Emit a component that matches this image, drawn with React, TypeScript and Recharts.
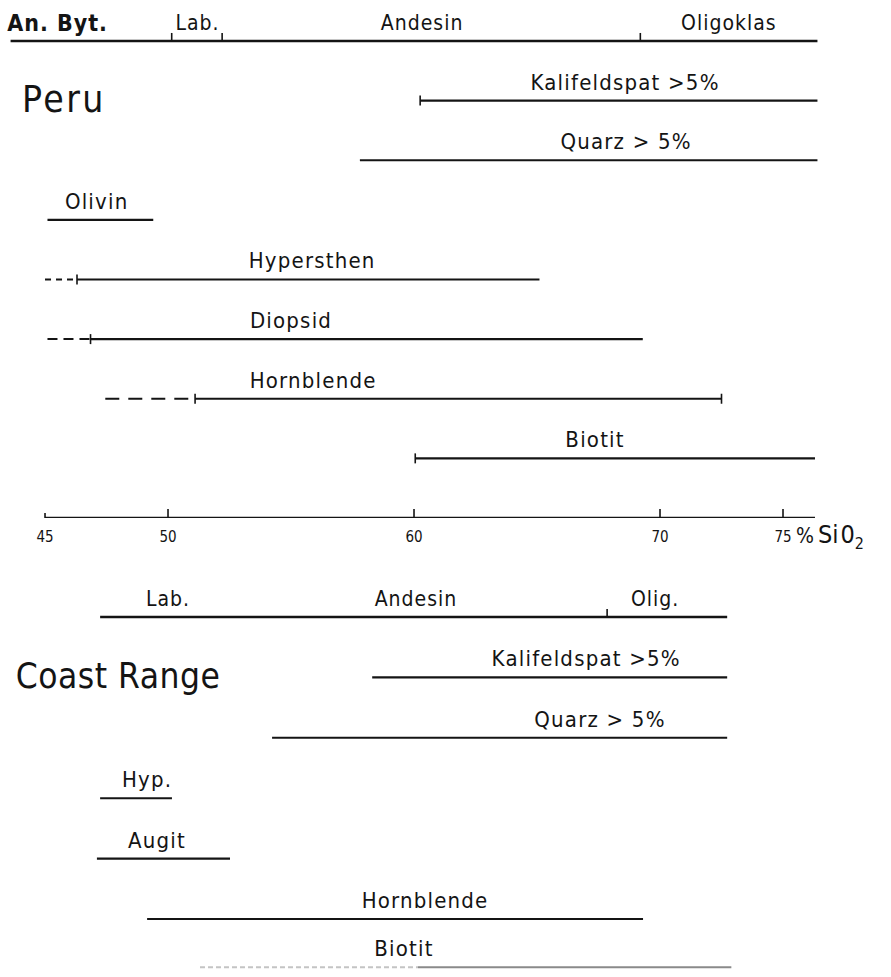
import { ComposedChart, Line, Scatter, XAxis, YAxis } from "recharts";

// SiO2 (%) scale shared by both panels
const X_DOMAIN: [number, number] = [43.17, 79.39];
const SIO2_TICKS = [45, 50, 60, 70, 75];
const AXIS_RANGE = { from: 45, to: 76.3 };

// ---- Peru ----
const peruRanges = [
  { mineral: "Plagioklas", row: 0, from: 43.6, to: 76.4 },
  { mineral: "Kalifeldspat", row: 1, from: 60.25, to: 76.4 },
  { mineral: "Quarz", row: 2, from: 57.8, to: 76.4 },
  { mineral: "Olivin", row: 3, from: 45.1, to: 49.4 },
  { mineral: "Hypersthen", row: 4, from: 46.3, to: 65.1 },
  { mineral: "Diopsid", row: 5, from: 46.85, to: 69.3 },
  { mineral: "Hornblende", row: 6, from: 51.1, to: 72.5 },
  { mineral: "Biotit", row: 7, from: 60.05, to: 76.3 },
];

const peruUncertain = [
  { mineral: "Hypersthen", row: 4, from: 45.0, to: 46.3 },
  { mineral: "Diopsid", row: 5, from: 45.1, to: 46.85 },
  { mineral: "Hornblende", row: 6, from: 47.45, to: 51.1 },
];

const peruTicks = [
  { row: 0, at: 50.15, kind: "up" },
  { row: 0, at: 52.2, kind: "up" },
  { row: 0, at: 69.2, kind: "up" },
  { row: 1, at: 60.25, kind: "both" },
  { row: 4, at: 46.3, kind: "both" },
  { row: 5, at: 46.85, kind: "both" },
  { row: 6, at: 51.1, kind: "both" },
  { row: 6, at: 72.5, kind: "both" },
  { row: 7, at: 60.05, kind: "both" },
];

const peruLabels = [
  { text: "An. Byt.", at: 45.51, row: 0, kind: "plagBig" },
  { text: "Lab.", at: 51.2, row: 0, kind: "plag" },
  { text: "Andesin", at: 60.33, row: 0, kind: "plag" },
  { text: "Oligoklas", at: 72.8, row: 0, kind: "plag" },
  { text: "Peru", at: 45.77, row: 1, kind: "titleWide" },
  { text: "Kalifeldspat >5%", at: 68.58, row: 1, kind: "mineral" },
  { text: "Quarz > 5%", at: 68.62, row: 2, kind: "mineral" },
  { text: "Olivin", at: 47.1, row: 3, kind: "mineral" },
  { text: "Hypersthen", at: 55.86, row: 4, kind: "mineral" },
  { text: "Diopsid", at: 55.0, row: 5, kind: "mineral" },
  { text: "Hornblende", at: 55.9, row: 6, kind: "mineral" },
  { text: "Biotit", at: 67.36, row: 7, kind: "mineral" },
];

// ---- Coast Range ----
const coastRanges = [
  { mineral: "Plagioklas", row: 0, from: 47.24, to: 72.73 },
  { mineral: "Kalifeldspat", row: 1, from: 58.3, to: 72.73 },
  { mineral: "Quarz", row: 2, from: 54.23, to: 72.73 },
  { mineral: "Hyp.", row: 3, from: 47.24, to: 50.16 },
  { mineral: "Augit", row: 4, from: 47.11, to: 52.52 },
  { mineral: "Hornblende", row: 5, from: 49.15, to: 69.31 },
];

const coastBiotitFaint = [{ mineral: "Biotit", row: 5.8, from: 51.3, to: 60.16 }];
const coastBiotit = [{ mineral: "Biotit", row: 5.8, from: 60.16, to: 72.9 }];

const coastTicks = [{ row: 0, at: 67.85, kind: "up" }];

const coastLabels = [
  { text: "Lab.", at: 50.0, row: 0, kind: "plag" },
  { text: "Andesin", at: 60.08, row: 0, kind: "plag" },
  { text: "Olig.", at: 69.8, row: 0, kind: "plag" },
  { text: "Coast Range", at: 47.97, row: 1, kind: "title" },
  { text: "Kalifeldspat >5%", at: 67.0, row: 1, kind: "mineral" },
  { text: "Quarz > 5%", at: 67.56, row: 2, kind: "mineral" },
  { text: "Hyp.", at: 49.15, row: 3, kind: "mineral" },
  { text: "Augit", at: 49.55, row: 4, kind: "mineral" },
  { text: "Hornblende", at: 60.45, row: 5, kind: "mineral" },
  { text: "Biotit", at: 59.59, row: 5.8, kind: "mineral" },
];

const INK = "#141414";
const FONT = "'DejaVu Sans Condensed', 'DejaVu Sans', sans-serif";
const DASH: Record<string, string> = { Hypersthen: "6 5", Diopsid: "10 6", Hornblende: "14 9" };

const seg = (r: { row: number; from: number; to: number }) => [
  { x: r.from, y: r.row },
  { x: r.to, y: r.row },
];

const TickMark = (props: any) => {
  const { cx, cy, payload } = props;
  if (cx == null) return <g />;
  const len = payload.kind === "up" ? [-8, 0] : payload.kind === "axisUp" ? [-9, 0] : [-5, 5];
  return <line x1={cx} x2={cx} y1={cy + len[0]} y2={cy + len[1]} stroke={INK} strokeWidth={1.6} />;
};

const TEXT_STYLE: Record<string, { size: number; dy: number; ls: number; weight: number }> = {
  titleWide: { size: 37, dy: 11, ls: 2.5, weight: 400 },
  title: { size: 35, dy: 11, ls: 0.5, weight: 400 },
  plagBig: { size: 23, dy: -10, ls: 1, weight: 700 },
  plag: { size: 21, dy: -11, ls: 1, weight: 400 },
  mineral: { size: 22, dy: -11, ls: 1.2, weight: 400 },
};

const TextMark = (props: any) => {
  const { cx, cy, payload } = props;
  if (cx == null) return <g />;
  const style = TEXT_STYLE[payload.kind];
  return (
    <text
      x={cx}
      y={cy + style.dy}
      textAnchor="middle"
      fontFamily={FONT}
      fontSize={style.size}
      fontWeight={style.weight}
      letterSpacing={style.ls}
      fill={INK}
    >
      {payload.text}
    </text>
  );
};

const AxisTick = (props: any) => {
  const { x, y, payload } = props;
  return (
    <g>
      <text x={x} y={y + 16} textAnchor="middle" fontFamily={FONT} fontSize={15} fill={INK}>
        {payload.value}
      </text>
      {payload.value === 75 && (
        <text x={x + 13} y={y + 17} fontFamily={FONT} fill={INK}>
          <tspan fontSize={21}>%</tspan>
          <tspan dx={4} fontSize={25}>
            Si
          </tspan>
          <tspan dx={2} fontSize={25}>
            0
          </tspan>
          <tspan fontSize={16} dy={6}>
            2
          </tspan>
        </text>
      )}
    </g>
  );
};

type Range = { mineral: string; row: number; from: number; to: number };

function Panel({
  ranges,
  uncertain,
  faint,
  ticks,
  labels,
  height,
  yDomain,
  showAxis,
}: {
  ranges: Range[];
  uncertain: Range[];
  faint: Range[];
  ticks: { row: number; at: number; kind: string }[];
  labels: { text: string; at: number; row: number; kind: string }[];
  height: number;
  yDomain: [number, number];
  showAxis: boolean;
}) {
  const axisRow = yDomain[1];
  return (
    <ComposedChart width={891} height={height} margin={{ top: 0, right: 0, bottom: 0, left: 0 }}>
      <XAxis
        type="number"
        dataKey="x"
        domain={X_DOMAIN}
        allowDataOverflow
        ticks={SIO2_TICKS}
        axisLine={false}
        tickLine={false}
        height={showAxis ? 42 : 0}
        hide={!showAxis}
        tick={<AxisTick />}
        interval={0}
      />
      <YAxis type="number" dataKey="y" domain={yDomain} reversed hide width={0} allowDataOverflow />

      {ranges.map((r, i) => (
        <Line
          key={"r" + i}
          data={seg(r)}
          dataKey="y"
          stroke={INK}
          strokeWidth={r.row === 0 ? 2.6 : 2.1}
          dot={false}
          activeDot={false}
          isAnimationActive={false}
        />
      ))}
      {uncertain.map((r, i) => (
        <Line
          key={"u" + i}
          data={seg(r)}
          dataKey="y"
          stroke={INK}
          strokeWidth={2}
          strokeDasharray={DASH[r.mineral]}
          dot={false}
          activeDot={false}
          isAnimationActive={false}
        />
      ))}
      {faint.map((r, i) => (
        <Line
          key={"f" + i}
          data={seg(r)}
          dataKey="y"
          stroke={i === 0 ? "#c4c4c4" : "#8a8a8a"}
          strokeWidth={2}
          strokeDasharray={i === 0 ? "5 3" : undefined}
          dot={false}
          activeDot={false}
          isAnimationActive={false}
        />
      ))}
      {showAxis && (
        <Line
          data={seg({ row: axisRow, from: AXIS_RANGE.from, to: AXIS_RANGE.to })}
          dataKey="y"
          stroke={INK}
          strokeWidth={2.4}
          dot={false}
          activeDot={false}
          isAnimationActive={false}
        />
      )}
      <Scatter
        data={[
          ...ticks.map((t) => ({ x: t.at, y: t.row, kind: t.kind })),
          ...(showAxis ? SIO2_TICKS.map((v) => ({ x: v, y: axisRow, kind: v === 45 ? "both" : "axisUp" })) : []),
        ]}
        shape={<TickMark />}
        isAnimationActive={false}
      />
      <Scatter
        data={labels.map((l) => ({ x: l.at, y: l.row, text: l.text, kind: l.kind }))}
        shape={<TextMark />}
        isAnimationActive={false}
      />
    </ComposedChart>
  );
}

export default function App() {
  return (
    <div style={{ position: "absolute", left: 0, top: 0, width: 891, height: 977, background: "#fff" }}>
      <div style={{ position: "absolute", left: 0, top: 0 }}>
        <Panel
          ranges={peruRanges}
          uncertain={peruUncertain}
          faint={[]}
          ticks={peruTicks}
          labels={peruLabels}
          height={560}
          yDomain={[-0.687, 8]}
          showAxis
        />
      </div>
      <div style={{ position: "absolute", left: 0, top: 560 }}>
        <Panel
          ranges={coastRanges}
          uncertain={[]}
          faint={[...coastBiotitFaint, ...coastBiotit]}
          ticks={coastTicks}
          labels={coastLabels}
          height={417}
          yDomain={[-0.944, 5.96]}
          showAxis={false}
        />
      </div>
    </div>
  );
}
